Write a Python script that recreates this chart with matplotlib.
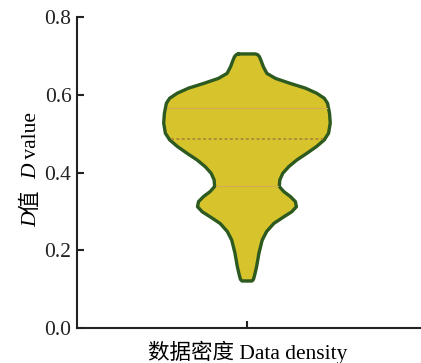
import numpy as np
import matplotlib
matplotlib.use('Agg')
import matplotlib.pyplot as plt
from matplotlib.transforms import IdentityTransform

# violin profile: D value vs relative density (half width)
d_values = [0.705, 0.703, 0.698, 0.689, 0.672, 0.655, 0.642, 0.629, 0.617,
            0.604, 0.591, 0.578, 0.552, 0.527, 0.501, 0.484, 0.467, 0.449,
            0.432, 0.415, 0.398, 0.381, 0.364, 0.351, 0.338, 0.325, 0.312,
            0.299, 0.286, 0.269, 0.248, 0.226, 0.192, 0.158, 0.136, 0.125,
            0.121]
density = [8.5, 10.8, 12.5, 14.0, 16.5, 20.0, 28.7, 43.7, 58.7,
           70.0, 77.7, 81.0, 83.0, 83.7, 82.0, 77.7, 70.0, 60.0,
           50.0, 42.0, 36.0, 33.0, 32.5, 37.0, 43.7, 48.7, 49.7,
           45.0, 37.0, 27.0, 19.7, 15.3, 12.0, 9.7, 7.7, 6.5,
           5.0]
q1, median, q3 = 0.366, 0.486, 0.565
y_ticks = [0.0, 0.2, 0.4, 0.6, 0.8]

serif = ['Liberation Serif', 'Noto Sans CJK SC']
plt.rcParams['font.family'] = serif
plt.rcParams['font.size'] = 15

W, H = 421, 363
fig = plt.figure(figsize=(W / 100, H / 100), dpi=100)
ax = fig.add_axes([77 / W, 35 / H, 1 - 77 / W, 311 / H])

y = np.array(d_values)
hw = np.array(density) / max(density) * 0.245
ax.fill_betweenx(y, -hw, hw, color='#D7C42C', zorder=2)
# outline
xs = np.concatenate([-hw, hw[::-1], [-hw[0]]])
ys = np.concatenate([y, y[::-1], [y[0]]])
ax.plot(xs, ys, color='#2C5A20', lw=2.4, zorder=3, solid_joinstyle='round')

# quartile / median lines
for v, ls, c, lw in [(q1, '-', '#D4AA50', 0.8), (q3, '-', '#D4AA50', 0.8),
                     (median, (0, (2, 1.5)), '#A8803A', 1.1)]:
    w = np.interp(v, y[::-1], hw[::-1]) - 0.004
    ax.plot([-w, w], [v, v], color=c, lw=lw, ls=ls, zorder=3)

ax.set_xlim(-0.5, 0.512)
ax.set_ylim(0, 0.8)
ax.set_yticks(y_ticks)
ax.set_yticklabels([f'{t:.1f}' for t in y_ticks])
ax.set_xticks([0])
ax.set_xticklabels([''])
for s in ['top', 'right']:
    ax.spines[s].set_visible(False)
for s in ['left', 'bottom']:
    ax.spines[s].set_linewidth(1.5)
    ax.spines[s].set_color('#222222')
ax.tick_params(direction='in', length=5, width=1.5, colors='#222222', pad=4)
ax.tick_params(axis='y', labelsize=15.5)

fig.text(247.5 / W, 1 - 352 / H, '数据密度 Data density', ha='center', va='center',
         fontsize=15.5, family=serif)

# y label built from pieces so that D is italic
fig.canvas.draw()
renderer = fig.canvas.get_renderer()
pieces = [('D', 'italic'), ('值', 'normal'), ('  ', 'normal'), ('D', 'italic'), (' value', 'normal')]
px, py = 36, H - 227
for s, style in pieces:
    t = fig.text(px, py, s, rotation=90, rotation_mode='anchor', ha='left', va='baseline',
                 transform=IdentityTransform(), fontsize=15.5, style=style, family=serif)
    bb = t.get_window_extent(renderer)
    py += bb.height

fig.savefig('out.png', dpi=100)
